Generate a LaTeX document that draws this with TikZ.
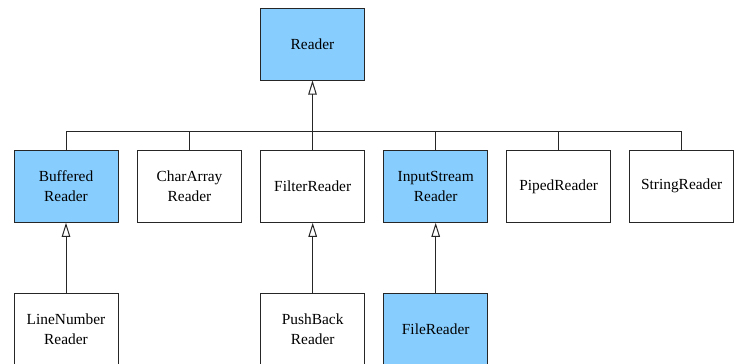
\documentclass[tikz,border=0pt]{standalone}
\usepackage{fontspec}
\setmainfont{Liberation Serif}
\newfontfamily\timesfam{Liberation Serif}
\usetikzlibrary{arrows.meta}
\definecolor{boxblue}{RGB}{135,206,255}
\begin{document}
\begin{tikzpicture}[x=1pt,y=-1pt,
  cls/.style={draw=black!85, line width=1pt, minimum width=104pt, minimum height=72pt, inner sep=0pt, align=center, font=\timesfam\fontsize{15.4}{20}\selectfont, text=black},
  hl/.style={cls, fill=boxblue},
  conn/.style={draw=black!85, line width=1pt},
  inh/.style={conn, -{Triangle[open, length=14pt, width=8.5pt, line width=1pt]}}]
\useasboundingbox (0,0) rectangle (739,364);
\clip (0,0) rectangle (739,364);
\node[hl] (reader) at (312.5,44) {Reader};
\node[hl]  (buf)   at (66,186.3)  {Buffered\\Reader};
\node[cls] (char)  at (189.5,186.3) {CharArray\\Reader};
\node[cls] (filt)  at (312.7,186.3) {FilterReader};
\node[hl]  (isr)   at (435.7,186.3) {InputStream\\Reader};
\node[cls] (pipe)  at (558.7,186.3) {PipedReader};
\node[cls] (str)   at (681.7,186.3) {StringReader};
\node[cls] (line)  at (66,329.3)  {LineNumber\\Reader};
\node[cls] (push)  at (312.7,329.3) {PushBack\\Reader};
\node[hl]  (file)  at (435.7,329.3) {FileReader};
\coordinate (bus) at (312.5,131);
\draw[conn] (buf.north) -- (buf.north |- bus) -- (str.north |- bus) -- (str.north);
\draw[conn] (char.north) -- (char.north |- bus);
\draw[conn] (filt.north) -- (filt.north |- bus);
\draw[conn] (isr.north) -- (isr.north |- bus);
\draw[conn] (pipe.north) -- (pipe.north |- bus);
\draw[inh] (reader.south |- bus) -- (reader.south);
\draw[inh] (line.north) -- (buf.south);
\draw[inh] (push.north) -- (filt.south);
\draw[inh] (file.north) -- (isr.south);
\end{tikzpicture}
\end{document}
